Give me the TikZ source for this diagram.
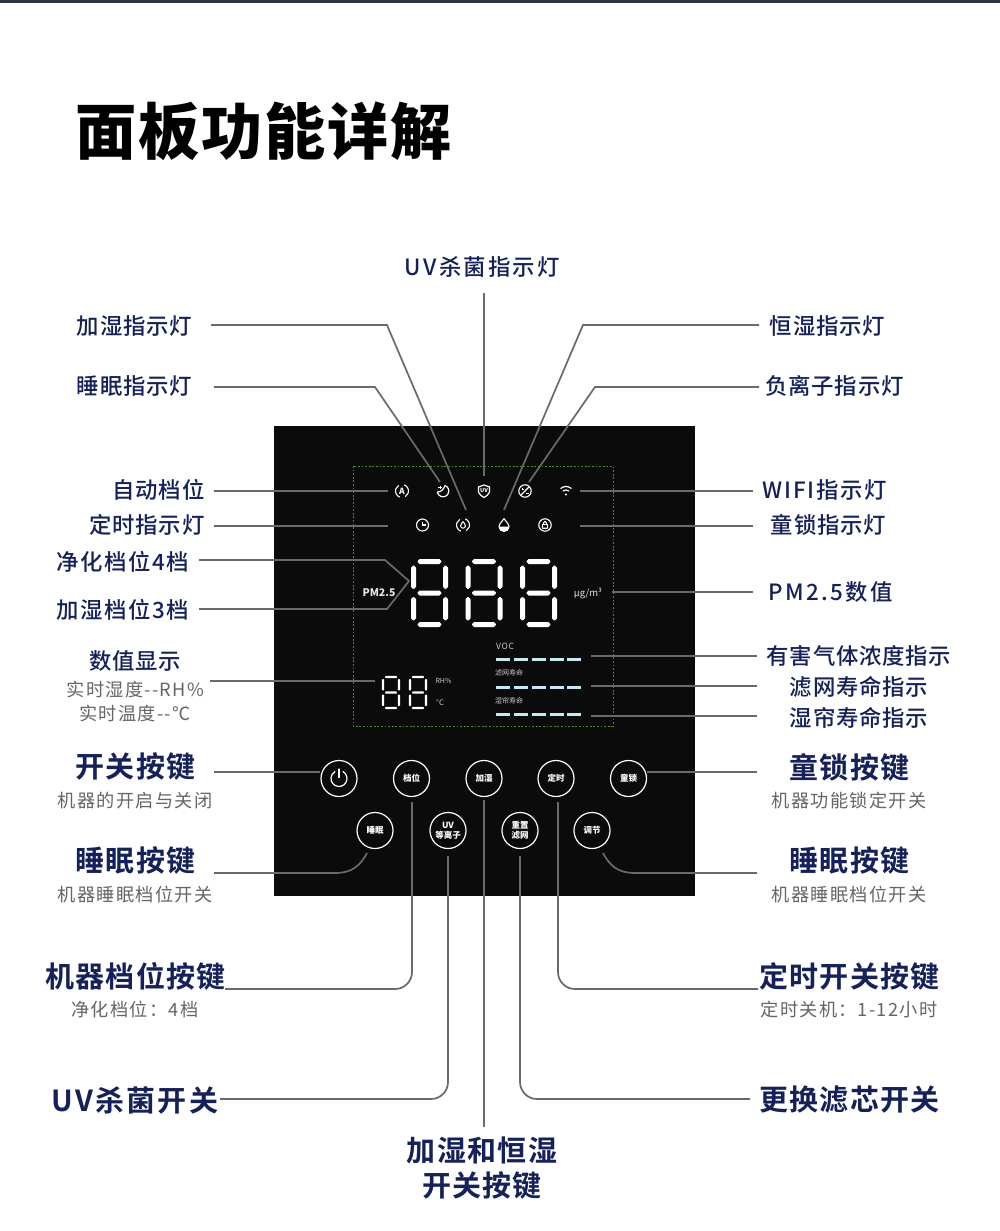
\documentclass[tikz,border=0pt]{standalone}
\usepackage{fontspec}
\setmainfont{Noto Sans CJK SC}
\newfontfamily\fM[LetterSpace=3.5]{Noto Sans CJK SC Medium}
\newfontfamily\fB[LetterSpace=4.5]{Noto Sans CJK SC Bold}
\newfontfamily\fR[LetterSpace=7]{Noto Sans CJK SC}
\newfontfamily\fT[LetterSpace=3]{Noto Sans CJK SC Black}
\definecolor{navy}{HTML}{14215A}
\definecolor{greytxt}{HTML}{666666}
\definecolor{conn}{HTML}{6A6A6A}
\definecolor{panel}{HTML}{0B0B0B}
\definecolor{barc}{HTML}{C4EAF5}
\definecolor{dotg}{HTML}{4A8F1C}
\definecolor{topbar}{HTML}{2E3440}
\newcommand\digit[5]{% x y w h t
  \foreach \a/\b/\c/\d in {%
    #1/#2/#1+#3/#2,
    #1/#2+#4*0.5/#1+#3/#2+#4*0.5,
    #1/#2+#4/#1+#3/#2+#4}{%
    \fill[white,rounded corners=.5pt] (\a+#5*.75,\b) -- (\a+#5*1.2,\b-#5*.5) -- (\c-#5*1.2,\d-#5*.5) -- (\c-#5*.75,\d) -- (\c-#5*1.2,\d+#5*.5) -- (\a+#5*1.2,\b+#5*.5) -- cycle;}
  \foreach \a/\b/\d in {%
    #1/#2/#2+#4*0.5,
    #1/#2+#4*0.5/#2+#4,
    #1+#3/#2/#2+#4*0.5,
    #1+#3/#2+#4*0.5/#2+#4}{%
    \fill[white,rounded corners=.5pt] (\a,\b+#5*.75) -- (\a+#5*.5,\b+#5*1.2) -- (\a+#5*.5,\d-#5*1.2) -- (\a,\d-#5*.75) -- (\a-#5*.5,\d-#5*1.2) -- (\a-#5*.5,\b+#5*1.2) -- cycle;}
}
\tikzset{
  x=1pt,y=-1pt,
  lab/.style={text=navy,font=\fM\fontsize{22.4}{26}\selectfont,inner sep=0,anchor=center},
  big/.style={text=navy,font=\fB\fontsize{29}{34}\selectfont,inner sep=0,anchor=center},
  sub/.style={text=greytxt,font=\fR\fontsize{18.2}{22}\selectfont,inner sep=0,anchor=center},
  line/.style={draw=conn,line width=1.7pt,rounded corners=0pt},
  btn/.style={circle,draw=white,line width=1.2pt,minimum size=36pt,inner sep=0,text=white,align=center,font=\fontsize{8.5}{9.5}\selectfont\bfseries},
  ic/.style={x=1pt,y=1pt,draw=white,line width=1.1pt},
  bar/.style={draw=barc,line width=3pt},
  tiny/.style={text=white!80!black,inner sep=0,anchor=center},
}
\begin{document}
\begin{tikzpicture}
\useasboundingbox (0,0) rectangle (1000,1231);
\fill[white] (0,0) rectangle (1000,1231);
\fill[topbar] (0,0) rectangle (1000,3);
\node[inner sep=0,font=\fT\fontsize{61.2}{70}\selectfont,text=black] (title) at (263.5,131) {面板功能详解};
% panel
\fill[panel] (274,426) rectangle (695,896);
\draw[dotg,line width=1pt,dash pattern=on 1.8pt off 1.8pt] (353,466) rectangle (613,726);
% coordinates for connector ends
\foreach \n/\x/\y in {a1/211/325,a2/387/325,a3/466/510,b1/214/387,b2/375/387,b3/440/482,u1/484/293,u2/484/476,
 c1/759/325,c2/583/325,c3/504/510,d1/759/387,d2/595/387,d3/529/482,e1/214/491,e2/388/491,f1/214/526,f2/388/526,
 g1/753/491,g2/580/491,h1/753/526,h2/580/526,i1/199/560,i2/385/560,i3/409/581,i4/387/609,i5/199/609,
 j1/753/592,j2/612/592,k1/757/656,k2/591/656,l1/757/686,l2/591/686,m1/757/716,m2/591/716,n1/210/681,n2/375/681}
  {\coordinate (\n) at (\x,\y);}
\draw[line] (a1)--(a2)--(a3);
\draw[line] (b1)--(b2)--(b3);
\draw[line] (u1)--(u2);
\draw[line] (c1)--(c2)--(c3);
\draw[line] (d1)--(d2)--(d3);
\draw[line] (e1)--(e2);
\draw[line] (f1)--(f2);
\draw[line] (g1)--(g2);
\draw[line] (h1)--(h2);
\draw[line] (i1)--(i2)--(i3)--(i4)--(i5);
\draw[line] (j1)--(j2);
\draw[line] (k1)--(k2);
\draw[line] (l1)--(l2);
\draw[line] (m1)--(m2);
\draw[line] (n1)--(n2);
% buttons
\node[btn] (bpow) at (339,778.5) {};
\node[btn] (bgear) at (411.5,778.5) {档位};
\node[btn] (bhum) at (484,778.5) {加湿};
\node[btn] (btime) at (556,778.5) {定时};
\node[btn] (block) at (628.5,778.5) {童锁};
\node[btn] (bsleep) at (375,830.5) {睡眠};
\node[btn] (buv) at (448,830.5) {\fontsize{8.5}{9}\selectfont UV\\等离子};
\node[btn] (bfil) at (520,830.5) {\fontsize{8.5}{9}\selectfont 重置\\滤网};
\node[btn] (badj) at (592,830.5) {调节};
\begin{scope}[shift={(339,778.5)},ic,line width=1.2pt,line cap=round]
  \draw (60:8) arc (60:-240:8);
  \draw (0,1) -- (0,9.5);
\end{scope}
% button connectors
\coordinate (p1) at (214,772);
\coordinate (q1) at (757,772);
\coordinate (r1) at (214,873);
\coordinate (r2) at (367,853);
\coordinate (s1) at (757,873);
\coordinate (s2) at (603,853);
\coordinate (t1) at (225,989);
\coordinate (t2) at (412,802);
\coordinate (v1) at (758,989);
\coordinate (v2) at (558,802);
\coordinate (w1) at (220,1099);
\coordinate (w2) at (448,856);
\coordinate (z1) at (750,1099);
\coordinate (z2) at (520,856);
\coordinate (y1) at (484,1127);
\coordinate (y2) at (484,800);
\draw[line] (p1)--(bpow.west |- p1);
\draw[line] (q1)--(block.east |- q1);
\draw[line] (r1)--(335,873) .. controls (352,873) and (360,866) .. (r2);
\draw[line] (s1)--(635,873) .. controls (618,873) and (610,866) .. (s2);
\draw[line,rounded corners=17pt] (t1)--(412,989)--(t2);
\draw[line,rounded corners=17pt] (v1)--(558,989)--(v2);
\draw[line,rounded corners=17pt] (w1)--(448,1099)--(w2);
\draw[line,rounded corners=17pt] (z1)--(520,1099)--(z2);
\draw[line] (y1)--(y2);
% big digits
\digit{413.5}{561.5}{32}{63}{5}
\digit{468}{561.5}{32}{63}{5}
\digit{522.5}{561.5}{32}{63}{5}
% small digits
\digit{383}{677}{16}{31}{2.4}
\digit{410}{677}{16}{31}{2.4}
% bars
\foreach \y in {659,687,714}{
  \foreach \x in {496,514,532,550,567}{\draw[bar] (\x,\y)--(\x+14,\y);}
}
% panel texts
\node[tiny,text=white!90!black,font=\bfseries\fontsize{10.5}{12}\selectfont] (pm) at (379,592.5) {PM2.5};
\node[tiny,text=white!90!black,font=\fontsize{9.5}{11}\selectfont] (ug) at (588,593) {μg/m³};
\node[tiny,font=\fontsize{8.5}{9}\selectfont] (voc) at (505,646) {\addfontfeatures{LetterSpace=8}VOC};
\node[tiny,font=\fontsize{7}{8}\selectfont] (t1a) at (509,673) {滤网寿命};
\node[tiny,font=\fontsize{7}{8}\selectfont] (t2a) at (509,701) {湿帘寿命};
\node[tiny,font=\fontsize{7}{8}\selectfont] (rh) at (443.5,681) {RH\%};
\node[tiny,font=\fontsize{7.5}{8}\selectfont] (dc) at (440,703) {°C};
% icons row 1
\begin{scope}[shift={(402,491)},ic]
  \draw (70:6.5) arc (70:-60:6.5);
  \draw (250:6.5) arc (250:120:6.5);
  \node[text=white,inner sep=0,font=\bfseries\fontsize{8.5}{8.5}\selectfont] (ia) at (0,0) {A};
\end{scope}
\begin{scope}[shift={(443,491)},ic,line width=1.2pt]
  \draw (70:5.8) arc (70:-170:5.8);
  \draw (70:5.8) .. controls (0.5,2) and (-1,-1) .. (-5.7,-1);
  \draw[line width=.9pt] (-3,5.2)--(-3,2) (-4.6,3.6)--(-1.4,3.6);
\end{scope}
\begin{scope}[shift={(484,491)},ic,line width=1.2pt]
  \draw (0,6) -- (5.5,4) -- (5.5,-1) .. controls (5,-4) and (2,-5) .. (0,-6.5) .. controls (-2,-5) and (-5,-4) .. (-5.5,-1) -- (-5.5,4) -- cycle;
  \node[text=white,inner sep=0,font=\bfseries\fontsize{5.5}{6}\selectfont] (iuv) at (0,0.5) {UV};
\end{scope}
\begin{scope}[shift={(525,491)},ic]
  \draw (0,0) circle (6.2);
  \draw (4,4)--(-4,-4);
  \draw[line width=.9pt] (-3.5,2)--(-.8,2) (-2.15,3.3)--(-2.15,.7) (1,-2)--(3.8,-2);
\end{scope}
\begin{scope}[shift={(566,491)},ic,line width=1.2pt,line cap=round]
  \draw (0,-3.5)++(50:8) arc (50:130:8);
  \draw (0,-3.5)++(52:4.5) arc (52:128:4.5);
  \fill[white] (0,-3.5) circle (1.1);
\end{scope}
% icons row 2
\begin{scope}[shift={(422.5,525)},ic]
  \draw (0,0) circle (6);
  \draw (0,3.5)--(0,0)--(3,0);
\end{scope}
\begin{scope}[shift={(463,525)},ic]
  \draw (70:6.5) arc (70:-60:6.5);
  \draw (250:6.5) arc (250:120:6.5);
  \draw[line width=1pt] (0,3.5) .. controls (1,2) and (2.4,.5) .. (2.4,-.8) arc (0:-180:2.4) .. controls (-2.4,.5) and (-1,2) .. (0,3.5);
\end{scope}
\begin{scope}[shift={(504,525)},ic,line width=1.1pt]
  \draw (0,6.5) .. controls (1.5,4) and (5,1) .. (5,-1.5) arc (0:-180:5) .. controls (-5,1) and (-1.5,4) .. (0,6.5);
  \fill[white] (-5,-1.5) arc (180:360:5) -- cycle;
\end{scope}
\begin{scope}[shift={(545,525)},ic]
  \draw (0,0) circle (6.2);
  \draw[rounded corners=.5pt] (-2.6,-3.2) rectangle (2.6,.5);
  \draw (-1.6,.5) -- (-1.6,2) arc (180:0:1.6) -- (1.6,.5);
\end{scope}
% left labels
\node[lab] (L1) at (134.5,326) {加湿指示灯};
\node[lab] (L2) at (134.5,386) {睡眠指示灯};
\node[lab] (L3) at (158.5,490) {自动档位};
\node[lab] (L4) at (147,525) {定时指示灯};
\node[lab] (L5) at (123,562) {\addfontfeatures{LetterSpace=7}净化档位4档};
\node[lab] (L6) at (123,610) {\addfontfeatures{LetterSpace=7}加湿档位3档};
\node[lab] (L7) at (135,661) {数值显示};
\node[sub] (L8) at (135.5,690) {实时湿度--RH\%};
\node[sub] (L9) at (135,714) {实时温度--℃};
\node[big] (L10) at (135.5,767) {开关按键};
\node[sub] (L11) at (135,801) {机器的开启与关闭};
\node[big] (L12) at (135.5,861) {睡眠按键};
\node[sub] (L13) at (135,895) {机器睡眠档位开关};
\node[big] (L14) at (135.5,976) {机器档位按键};
\node[sub] (L15) at (135,1010) {净化档位：4档};
\node[big] (L16) at (135,1100) {\addfontfeatures{LetterSpace=7.5}UV杀菌开关};
% centre labels
\node[lab] (C1) at (482.5,267) {\addfontfeatures{LetterSpace=10}UV杀菌指示灯};
\node[big] (C2) at (482,1150) {加湿和恒湿};
\node[big] (C3) at (482,1186) {开关按键};
% right labels
\node[lab] (R1) at (827.5,326) {恒湿指示灯};
\node[lab] (R2) at (834.5,386) {负离子指示灯};
\node[lab] (R3) at (825,490) {\addfontfeatures{LetterSpace=8}WIFI指示灯};
\node[lab] (R4) at (828.5,525) {童锁指示灯};
\node[lab] (R5) at (830.5,592) {\addfontfeatures{LetterSpace=11}PM2.5数值};
\node[lab] (R6) at (859,656) {有害气体浓度指示};
\node[lab] (R7) at (859,687) {滤网寿命指示};
\node[lab] (R8) at (859,718) {湿帘寿命指示};
\node[big] (R9) at (849.5,767) {童锁按键};
\node[sub] (R10) at (849,801) {机器功能锁定开关};
\node[big] (R11) at (849.5,861) {睡眠按键};
\node[sub] (R12) at (849,895) {机器睡眠档位开关};
\node[big] (R13) at (849.5,976) {定时开关按键};
\node[sub] (R14) at (849,1010) {定时关机：1-12小时};
\node[big] (R15) at (849.5,1100) {更换滤芯开关};
\end{tikzpicture}
\end{document}
